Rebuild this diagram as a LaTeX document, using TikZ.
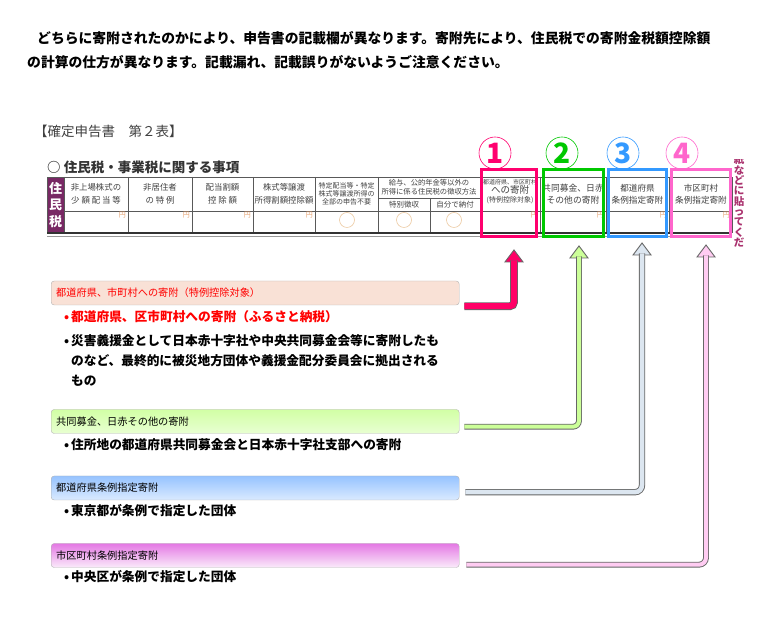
\documentclass[tikz,border=0pt]{standalone}
\usepackage{fontspec}
\setmainfont{Noto Sans CJK JP}
\usepackage{xcolor}
\usetikzlibrary{positioning, calc}
\definecolor{oneRed}{RGB}{255,0,110}
\definecolor{twoGreen}{RGB}{0,200,0}
\definecolor{threeBlue}{RGB}{51,153,255}
\definecolor{fourPink}{RGB}{255,102,204}
\definecolor{zeiPurple}{RGB}{120,40,100}
\definecolor{sideRed}{RGB}{170,50,110}
\definecolor{yenOrange}{RGB}{230,160,110}
\definecolor{markOrange}{RGB}{235,200,160}
\definecolor{redFill}{RGB}{255,0,102}
\definecolor{greenFill}{RGB}{204,255,153}
\definecolor{blueFill}{RGB}{220,230,240}
\definecolor{pinkFill}{RGB}{255,204,242}
\newcommand{\jpsz}[2]{\fontsize{#1}{#2}\selectfont}

\begin{document}
\begin{tikzpicture}[x=1pt, y=1pt,
  tline/.style={draw=black!65, line width=0.6pt},
  cell/.style={align=center, text=black!75, inner sep=0pt},
  yen/.style={anchor=north east, inner sep=0pt, text=yenOrange, font=\jpsz{7}{7}},
  colbox/.style={rectangle, draw, line width=3pt, minimum height=67pt, inner sep=0pt},
  numcirc/.style={circle, draw, line width=0.6pt, minimum size=32pt, inner sep=0pt, font=\bfseries\jpsz{28}{28}},
  catbox/.style={rectangle, draw=black!30, rounded corners=3pt, text width=398pt, inner xsep=5pt, minimum height=24pt, align=left, anchor=west, font=\jpsz{10.2}{12}},
  item/.style={anchor=west, inner sep=0pt, align=left, font=\bfseries\jpsz{12.7}{20}},
  pipe/.style={draw=black!60, line width=0.9pt},
  head/.style={draw=black!60, line width=0.9pt, line join=miter}
]
  \useasboundingbox (0,0) rectangle (780,629);

  \node[anchor=west, inner sep=0pt, font=\bfseries\jpsz{13.8}{16}] (intro1) at (37,591) {どちらに寄附されたのかにより、申告書の記載欄が異なります。寄附先により、住民税での寄附金税額控除額};
  \node[anchor=west, inner sep=0pt, font=\bfseries\jpsz{13.8}{16}] (intro2) at (27,567) {の計算の仕方が異なります。記載漏れ、記載誤りがないようご注意ください。};

  \node[anchor=west, inner sep=0pt, text=black!75, font=\jpsz{13.5}{16}] (form) at (34,498) {【確定申告書　第２表】};
  \node[anchor=west, inner sep=0pt, text=black!80, font=\bfseries\jpsz{13.5}{16}] (section) at (47,462) {○ 住民税・事業税に関する事項};

  \fill[zeiPurple] (47,452) rectangle (64,397);
  \node[inner sep=0pt, text=white, font=\bfseries\jpsz{13}{16.5}, align=center] (zei) at (55.5,424) {住\\民\\税};
  \draw[tline] (47,452) rectangle (732,397);
  \draw[tline] (64,418) -- (732,418);
  \foreach \x in {64,128,192,253,315,378,480,540,606,669}
    \draw[tline] (\x,452) -- (\x,397);
  \draw[tline] (378,431) -- (480,431);
  \draw[tline] (430,431) -- (430,397);
  \draw[line width=1.4pt, black!80] (47,396) -- (732,396);
  \draw[line width=0.5pt, black!40] (47,393) -- (732,393);

  \foreach \cx/\txt [count=\i] in {96/{非上場株式の\\少 額 配 当 等}, 160/{非居住者\\の 特 例}, 222.5/{配当割額\\控 除 額}, 284/{株式等譲渡\\所得割額控除額}}
    \node[cell, font=\jpsz{8.4}{12.5}] (h\i) at (\cx,435) {\txt};
  \node[cell, font=\jpsz{7}{8.2}] (h5) at (346.5,435) {特定配当等・特定\\株式等譲渡所得の\\全部の申告不要};
  \node[cell, font=\jpsz{7.3}{9}] (h6) at (429,442) {給与、公的年金等以外の\\所得に係る住民税の徴収方法};
  \node[cell, font=\jpsz{7.5}{8}] (h6a) at (404,424.5) {特別徴収};
  \node[cell, font=\jpsz{7.5}{8}] (h6b) at (455,424.5) {自分で納付};
  \node[cell, font=\jpsz{6}{9}] (h7) at (510,437) {都道府県、市区町村\\{\jpsz{9.5}{9}への寄附}\\{\jpsz{7}{9}(特例控除対象)}};
  \node[cell, font=\jpsz{8.8}{12}] (h8) at (573,435) {共同募金、日赤\\その他の寄附};
  \node[cell, font=\jpsz{8.6}{12}] (h9) at (637.5,435) {都道府県\\条例指定寄附};
  \node[cell, font=\jpsz{8.6}{12}] (h10) at (701,435) {市区町村\\条例指定寄附};

  \foreach \x [count=\i] in {128,192,253,315,540,606,669,732}
    \node[yen] (yen\i) at (\x-2,417) {円};
  \foreach \x [count=\i] in {347,404,454}
    \node[circle, draw=markOrange, line width=0.6pt, minimum size=15pt, inner sep=0pt] (mark\i) at (\x,409) {};

  \node[colbox, draw=oneRed, minimum width=55pt] (c1) at (509,426) {};
  \node[colbox, draw=twoGreen, minimum width=60pt] (c2) at (573.5,426) {};
  \node[colbox, draw=threeBlue, minimum width=58pt] (c3) at (637.5,426) {};
  \node[colbox, draw=fourPink, minimum width=59pt] (c4) at (701,426) {};

  \node[numcirc, draw=oneRed, text=oneRed] (n1) at (495,476) {1};
  \node[numcirc, draw=twoGreen, text=twoGreen] (n2) at (562,476) {2};
  \node[numcirc, draw=threeBlue, text=threeBlue] (n3) at (623,476) {3};
  \node[numcirc, draw=fourPink, text=fourPink] (n4) at (682,476) {4};

  \begin{scope}
    \clip (728,469) rectangle (752,380);
    \node[inner sep=0pt, align=center, text=sideRed, font=\bfseries\jpsz{10.5}{10.3}] (side) at (739,428) {紙\\な\\ど\\に\\貼\\っ\\て\\く\\だ};
  \end{scope}

  \node[catbox, fill={rgb,255:red,249;green,225;blue,214}, text=red] (catA) at (51,336) {都道府県、市町村への寄附（特例控除対象）};
  \node[catbox, top color={rgb,255:red,210;green,255;blue,165}, bottom color={rgb,255:red,232;green,255;blue,210}] (catB) at (51,207.5) {共同募金、日赤その他の寄附};
  \node[catbox, top color={rgb,255:red,150;green,195;blue,255}, bottom color={rgb,255:red,218;green,234;blue,255}] (catC) at (51,141) {都道府県条例指定寄附};
  \node[catbox, top color={rgb,255:red,228;green,120;blue,228}, bottom color={rgb,255:red,250;green,235;blue,250}] (catD) at (51,73.5) {市区町村条例指定寄附};

  \node[item, text=red] (itemA1) at (64,312) {\makebox[7pt][l]{•}都道府県、区市町村への寄附（ふるさと納税）};
  \node[item] (itemA2) at (64,269) {\makebox[7pt][l]{•}災害義援金として日本赤十字社や中央共同募金会等に寄附したも\\\hspace*{7pt}のなど、最終的に被災地方団体や義援金配分委員会に拠出される\\\hspace*{7pt}もの};
  \node[item] (itemB1) at (64,184) {\makebox[7pt][l]{•}住所地の都道府県共同募金会と日本赤十字社支部への寄附};
  \node[item] (itemC1) at (64,118) {\makebox[7pt][l]{•}東京都が条例で指定した団体};
  \node[item] (itemD1) at (64,52) {\makebox[7pt][l]{•}中央区が条例で指定した団体};

  \coordinate (t1) at ([shift={(5,-12)}]c1.south);
  \coordinate (t2) at ([shift={(5.5,-8)}]c2.south);
  \coordinate (t3) at ([shift={(4.5,-5)}]c3.south);
  \coordinate (t4) at ([shift={(5,-7)}]c4.south);

  \filldraw[head, fill=redFill] ([shift={(-9,-12)}]t1) -- (t1) -- ([shift={(9,-12)}]t1) -- cycle;
  \draw[pipe, double=redFill, double distance=6pt, rounded corners=4pt] ([shift={(5,-1)}]catA.south east) -| ([yshift=-10.5pt]t1);
  \filldraw[head, fill=greenFill] ([shift={(-9,-12)}]t2) -- (t2) -- ([shift={(9,-12)}]t2) -- cycle;
  \draw[pipe, double=greenFill, double distance=4pt, rounded corners=6pt] ([shift={(5,7)}]catB.south east) -| ([yshift=-10.5pt]t2);
  \filldraw[head, fill=blueFill] ([shift={(-9,-12)}]t3) -- (t3) -- ([shift={(9,-12)}]t3) -- cycle;
  \draw[pipe, double=blueFill, double distance=4.5pt, rounded corners=7pt] ([shift={(6,8)}]catC.south east) -| ([yshift=-10.5pt]t3);
  \filldraw[head, fill=pinkFill] ([shift={(-9,-12)}]t4) -- (t4) -- ([shift={(9,-12)}]t4) -- cycle;
  \draw[pipe, double=pinkFill, double distance=4pt, rounded corners=7pt] ([shift={(7,3)}]catD.south east) -| ([yshift=-10.5pt]t4);
\end{tikzpicture}
\end{document}
